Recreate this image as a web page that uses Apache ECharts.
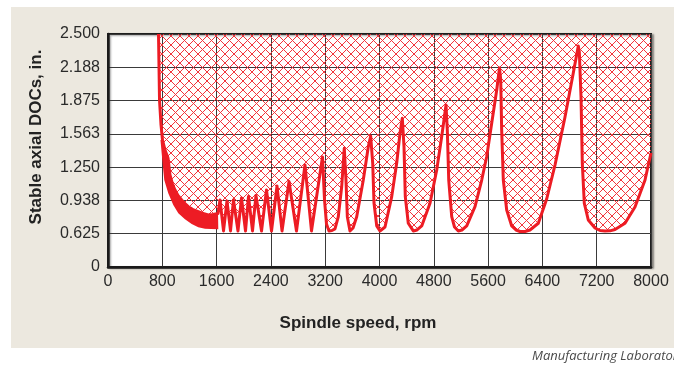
<!DOCTYPE html>
<html>
<head>
<meta charset="utf-8">
<script src="https://cdn.jsdelivr.net/npm/echarts@6/dist/echarts.min.js"></script>
<style>
  html, body { margin: 0; padding: 0; background: #fff; }
  #wrap { position: relative; width: 674px; height: 365px; overflow: hidden; }
  #panel { position: absolute; left: 11px; top: 7px; width: 663px; height: 341px; background: #ece8df; }
  #chart { position: absolute; left: 0; top: 0; width: 674px; height: 365px; }
</style>
</head>
<body>
<div id="wrap"><div id="panel"></div><div id="chart"></div></div>
<script>
// stability lobes: spindle speed (rpm) vs stable axial depth of cut (in.)

// steep drop, then the top edge of the dense low-speed lobes
const lowSpeedRpm = [744, 759, 781,
  803, 840, 884, 913, 950, 987, 1031, 1086, 1134, 1183, 1252, 1330, 1400, 1478, 1547, 1621];
const lowSpeedDepth = [2.500, 1.880, 1.646,
  1.505, 1.411, 1.336, 1.176, 1.092, 1.035, 0.984, 0.942, 0.909, 0.879, 0.852, 0.832, 0.815, 0.801, 0.805, 0.815];

// bottom edge of that dense band (right to left)
const bandBottomRpm = [1625, 1517, 1429, 1330, 1233, 1134, 1036, 962, 888, 829, 800, 773];
const bandBottomDepth = [0.667, 0.669, 0.672, 0.685, 0.716, 0.760, 0.817, 0.895, 1.004, 1.129, 1.317, 1.505];

// wider lobes, 1600 rpm and up
const lobeRpm = [1650, 1702, 1753, 1805, 1849, 1915, 1967, 2026, 2070, 2129, 2180, 2262,
  2335, 2409, 2490, 2564, 2667, 2777, 2902, 2998,
  3160, 3190, 3219, 3256, 3300, 3344, 3393, 3443, 3481, 3506, 3526, 3565, 3610, 3664,
  3761, 3835, 3870, 3900, 3919, 3959, 4007, 4081, 4180, 4253, 4302, 4336, 4361, 4380,
  4424, 4498, 4553, 4622, 4744, 4843, 4916, 4980, 4999, 5020, 5064, 5105, 5161, 5215,
  5285, 5407, 5506, 5579, 5653, 5727, 5768, 5786, 5800, 5824, 5874, 5948, 6011, 6070,
  6144, 6217, 6340, 6463, 6586, 6733, 6855, 6929, 6944, 6969, 6988, 7017, 7076, 7175,
  7249, 7322, 7396, 7470, 7617, 7764, 7912, 8000];
const lobeDepth = [0.942, 0.651, 0.932, 0.651, 0.942, 0.651, 0.960, 0.651, 0.974, 0.651, 0.984, 0.651,
  1.035, 0.651, 1.073, 0.651, 1.115, 0.651, 1.270, 0.651,
  1.345, 0.942, 0.716, 0.651, 0.655, 0.670, 0.785, 1.066, 1.427, 1.129, 0.785, 0.651, 0.679, 0.785,
  1.129, 1.442, 1.542, 1.286, 0.913, 0.698, 0.651, 0.688, 0.973, 1.286, 1.568, 1.709, 1.442, 0.973,
  0.723, 0.651, 0.660, 0.698, 0.911, 1.223, 1.536, 1.833, 1.599, 1.129, 0.785, 0.688, 0.651, 0.660,
  0.698, 0.879, 1.129, 1.348, 1.662, 1.974, 2.181, 2.068, 1.599, 1.129, 0.848, 0.698, 0.660, 0.646,
  0.646, 0.660, 0.723, 0.951, 1.270, 1.721, 2.134, 2.387, 2.331, 1.909, 1.286, 0.913, 0.754, 0.679,
  0.655, 0.651, 0.652, 0.665, 0.723, 0.876, 1.129, 1.383];

const yTickLabels = ['0', '0.625', '0.938', '1.250', '1.563', '1.875', '2.188', '2.500'];

const speed = lowSpeedRpm.concat(lobeRpm);
const depth = lowSpeedDepth.concat(lobeDepth);
const lobeData = speed.map((s, i) => [s, depth[i]]);

// outline of the solid low-speed band: top edge left->right, bottom edge right->left
const bandRpm = lowSpeedRpm.slice(3).concat(bandBottomRpm);
const bandDepth = lowSpeedDepth.slice(3).concat(bandBottomDepth);

// red cross hatch for the unstable region, crisp 1px diagonals
function makeHatch() {
  const n = 9;
  const c = document.createElement('canvas');
  c.width = n; c.height = n;
  const g = c.getContext('2d');
  g.fillStyle = '#f2353d';
  for (let i = 0; i < n; i++) {
    g.fillRect(i, i, 1, 1);
    g.fillRect(n - 1 - i, i, 1, 1);
  }
  return c;
}

const FONT = '"Liberation Sans", Arial, sans-serif';

const myChart = echarts.init(document.getElementById('chart'));
const option = {
  animation: false,
  grid: {
    left: 108, right: 23, top: 34, bottom: 98,
    show: true,
    backgroundColor: '#fff',
    borderColor: '#1e1e1e',
    borderWidth: 2,
    shadowColor: 'rgba(0,0,0,0.35)',
    shadowBlur: 2,
    shadowOffsetX: 2,
    shadowOffsetY: 1
  },
  xAxis: {
    type: 'value',
    min: 0, max: 8000, interval: 800,
    axisLine: { show: true, lineStyle: { color: '#1a1a1a', width: 2.5 } },
    axisTick: { show: false },
    splitLine: { show: true, lineStyle: { color: '#3a3a3a', width: 1 } },
    axisLabel: {
      color: '#2a2a2a', fontSize: 16, fontFamily: FONT, margin: 7,
      formatter: v => String(v)
    }
  },
  yAxis: {
    type: 'value',
    min: 0.3125, max: 2.5, interval: 0.3125,
    axisLine: { show: true, lineStyle: { color: '#1a1a1a', width: 2.5 } },
    axisTick: { show: false },
    splitLine: { show: true, lineStyle: { color: '#3a3a3a', width: 1 } },
    axisLabel: {
      color: '#2a2a2a', fontSize: 16, fontFamily: FONT, margin: 8,
      formatter: (v, i) => yTickLabels[i]
    }
  },
  graphic: [
    {
      type: 'text', x: 36, y: 137, rotation: Math.PI / 2,
      style: {
        text: 'Stable axial DOCs, in.', fill: '#222',
        font: 'bold 17px ' + FONT, textAlign: 'center', textVerticalAlign: 'middle'
      }
    },
    {
      type: 'text', x: 358, y: 323,
      style: {
        text: 'Spindle speed, rpm', fill: '#222',
        font: 'bold 17px ' + FONT, textAlign: 'center', textVerticalAlign: 'middle'
      }
    },
    {
      type: 'text', x: 532, y: 356,
      style: {
        text: 'Manufacturing Laboratories', fill: '#4a4a4a',
        font: 'italic 13px "Open Sans", sans-serif', textVerticalAlign: 'middle'
      }
    }
  ],
  series: [
    {
      type: 'line',
      data: lobeData,
      showSymbol: false,
      lineStyle: { color: '#ed1c24', width: 3, join: 'round' },
      areaStyle: {
        origin: 'end',
        opacity: 1,
        color: { image: makeHatch(), repeat: 'repeat' }
      }
    },
    {
      type: 'custom',
      data: [[bandRpm[0], bandDepth[0]]],
      renderItem: (params, api) => ({
        type: 'polygon',
        shape: { points: bandRpm.map((s, i) => api.coord([s, bandDepth[i]])) },
        style: { fill: '#ed1c24' }
      })
    }
  ]
};

option && myChart.setOption(option);
</script>
</body>
</html>
